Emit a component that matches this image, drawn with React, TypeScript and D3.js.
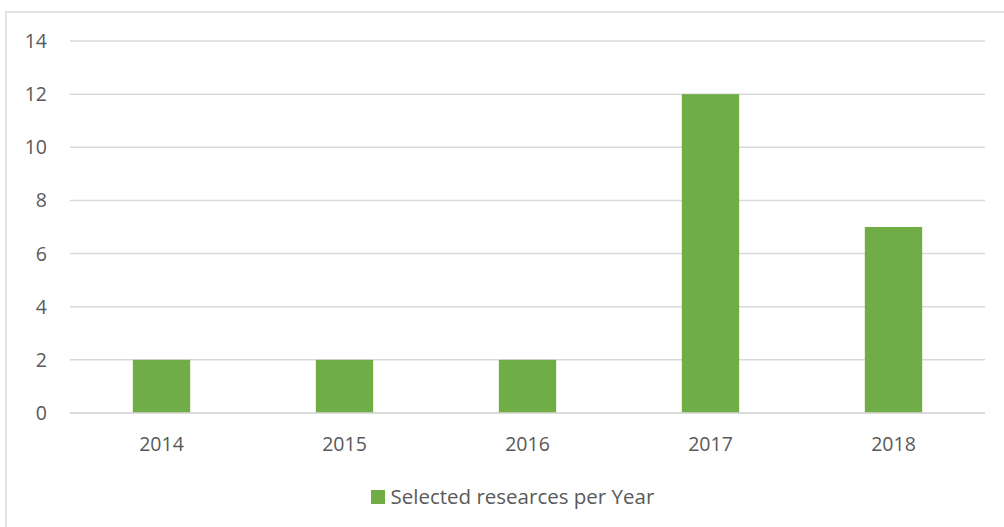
import React from "react";
import * as d3 from "d3";

const years = ["2014", "2015", "2016", "2017", "2018"];
const values = [2, 2, 2, 12, 7];
const yTicks = [0, 2, 4, 6, 8, 10, 12, 14];
const seriesName = "Selected researces per Year";

export default function App() {
  const W = 1004, H = 527;
  const left = 70, right = 985, top = 41, bottom = 413;
  const x = d3.scaleBand<string>().domain(years).range([left, right]).padding(0);
  const y = d3.scaleLinear().domain([0, 14]).range([bottom, top]);
  const barW = x.bandwidth() / 3.19;
  const font = "'Open Sans', 'Noto Sans', sans-serif";
  const textColor = "#595959";
  return (
    <svg width={W} height={H} style={{ position: "absolute", left: 0, top: 0 }} fontFamily={font}>
      <rect x={0} y={0} width={W} height={H} fill="#fff" />
      <rect x={6} y={12} width={W + 10} height={H + 10} fill="none" stroke="#d9d9d9" strokeWidth={1.5} />
      {yTicks.map((t) => (
        <g key={t}>
          <line x1={left} x2={right} y1={y(t)} y2={y(t)} stroke="#d9d9d9" strokeWidth={1.5} />
          <text x={47} y={y(t)} dy="0.36em" textAnchor="end" fontSize={19.5} fill={textColor}>{t}</text>
        </g>
      ))}
      {years.map((yr, i) => {
        const cx = (x(yr) as number) + x.bandwidth() / 2;
        return (
          <g key={yr}>
            <rect x={cx - barW / 2} y={y(values[i])} width={barW} height={y(0) - y(values[i])} fill="#70ad47" />
            <text x={cx} y={451} textAnchor="middle" fontSize={19.5} fill={textColor}>{yr}</text>
          </g>
        );
      })}
      <line x1={left} x2={right} y1={y(0)} y2={y(0)} stroke="#d9d9d9" strokeWidth={1.5} />
      <rect x={371} y={490} width={14} height={14} fill="#70ad47" />
      <text x={390.5} y={504} fontSize={20.5} fill={textColor}>{seriesName}</text>
    </svg>
  );
}
